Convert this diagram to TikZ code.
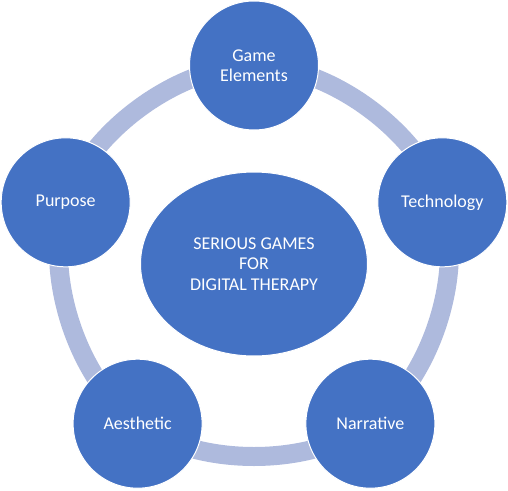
\documentclass[tikz,border=0pt]{standalone}
\usepackage{fontspec}
\setmainfont{Carlito}
\usetikzlibrary{positioning}
\usetikzlibrary{shapes}
\pgfdeclarelayer{background}
\pgfsetlayers{background,main}
\definecolor{cyclefill}{RGB}{68,114,196}
\definecolor{cycleband}{RGB}{174,186,221}

\begin{document}
\begin{tikzpicture}[x=1pt, y=1pt,
    topic style/.style={
        circle, fill=cyclefill, draw=white, line width=1pt,
        inner sep=0pt, minimum size=129pt,
        text=white, align=center,
        font=\fontsize{18}{20.5}\selectfont
    },
    core style/.style={
        ellipse, fill=cyclefill, draw=white, line width=1pt,
        inner sep=0pt, minimum width=227pt, minimum height=184pt,
        text=white, align=center,
        font=\fontsize{18}{20.5}\selectfont
    },
    band edge/.style={cycleband, line width=19pt, bend right=36, looseness=0.82}
]
				\useasboundingbox (-254,-226.5) rectangle (254,263.5);
				
				\node[core style] (core) at (0,-0.5) {SERIOUS GAMES\\FOR\\DIGITAL THERAPY};
				
				\node[topic style] (game) at (90:198pt) {Game\\Elements};
				\node[topic style] (purpose) at (162:198pt) {Purpose};
				\node[topic style] (aesthetic) at (234:198pt) {Aesthetic};
				\node[topic style] (narrative) at (306:198pt) {Narrative};
				\node[topic style] (tech) at (18:198pt) {Technology};
				
				% ring behind the topics
				\begin{pgfonlayer}{background}
				\draw[band edge] (game.center) to (purpose.center);
				\draw[band edge] (purpose.center) to (aesthetic.center);
				\draw[band edge] (aesthetic.center) to (narrative.center);
				\draw[band edge] (narrative.center) to (tech.center);
				\draw[band edge] (tech.center) to (game.center);
				\end{pgfonlayer}
			\end{tikzpicture}
\end{document}
